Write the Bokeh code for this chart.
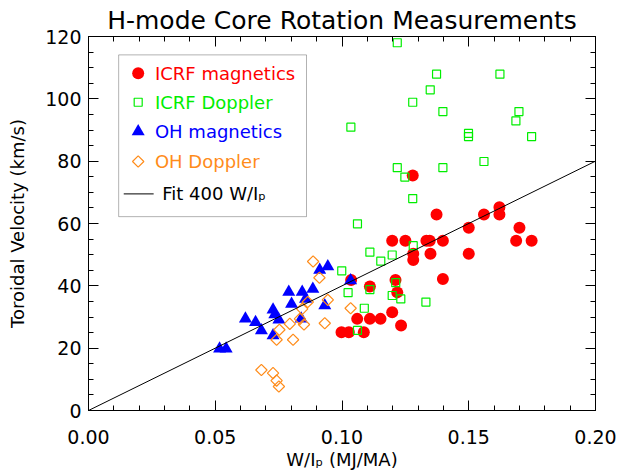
import numpy as np
from bokeh.plotting import figure
from bokeh.models import (SingleIntervalTicker, LinearAxis, PrintfTickFormatter,
                          CustomJSTickFormatter, BoxAnnotation, ColumnDataSource)
from bokeh.core.properties import value
from bokeh.embed import file_html
from bokeh.resources import INLINE

FONT = "DejaVu Sans"

# ---------------- data ----------------
icrf_mag_x = [0.1279, 0.1373, 0.1560, 0.1621, 0.1621, 0.1500, 0.1700, 0.1198, 0.1250,
              0.1333, 0.1346, 0.1398, 0.1687, 0.1748, 0.1281, 0.1281, 0.1349, 0.1500,
              0.1036, 0.1110, 0.1211, 0.1218, 0.1398, 0.1198, 0.1060, 0.1110, 0.1152,
              0.1233, 0.0998, 0.1027, 0.1086]
icrf_mag_y = [75.4, 62.9, 62.9, 65.2, 62.9, 58.6, 58.6, 54.5, 54.5,
              54.5, 54.5, 54.5, 54.5, 54.5, 50.3, 48.3, 50.3, 50.3,
              41.9, 39.8, 41.9, 37.9, 42.2, 31.5, 29.4, 29.4, 29.4,
              27.3, 25.1, 25.1, 25.1]

icrf_dop_x = [0.1218, 0.1373, 0.1623, 0.1348, 0.1279, 0.1398, 0.1698, 0.1686, 0.1035,
              0.1499, 0.1499, 0.1748, 0.1560, 0.1218, 0.1398, 0.1248, 0.1279, 0.1061,
              0.1110, 0.1153, 0.1198, 0.1281, 0.0999, 0.1024, 0.1110, 0.1212, 0.1198,
              0.1232, 0.1331, 0.1088, 0.1061]
icrf_dop_y = [118.0, 107.9, 107.9, 102.9, 98.9, 95.9, 95.9, 92.9, 90.9,
              88.9, 87.9, 87.9, 79.9, 77.9, 77.9, 74.9, 68.0, 59.9,
              50.8, 47.9, 49.9, 52.9, 44.8, 37.8, 38.8, 41.0, 36.9,
              35.8, 34.8, 32.8, 25.7]

oh_mag_x = [0.0517, 0.0543, 0.0619, 0.0659, 0.0682, 0.0728, 0.0735, 0.0751, 0.0728,
            0.0790, 0.0801, 0.0843, 0.0856, 0.0885, 0.0912, 0.0944, 0.0932, 0.0839,
            0.1034]
oh_mag_y = [19.8, 19.8, 29.4, 28.3, 25.7, 32.3, 30.8, 29.1, 24.1,
            38.0, 34.2, 38.0, 35.8, 39.0, 45.1, 46.2, 33.7, 29.4,
            41.7]

oh_dop_x = [0.0886, 0.0911, 0.0944, 0.0865, 0.0843, 0.0834, 0.0850, 0.0794, 0.0753,
            0.0742, 0.0807, 0.0932, 0.1034, 0.0682, 0.0728, 0.0742, 0.0751]
oh_dop_y = [47.8, 42.6, 35.5, 34.8, 32.6, 29.4, 27.6, 27.8, 25.9,
            22.7, 22.7, 28.0, 32.8, 13.0, 12.0, 9.6, 7.7]

fit_slope = 400.0
fit_x = [0.0, 0.2]

legend_labels = ["ICRF magnetics", "ICRF Doppler", "OH magnetics", "OH Doppler", "Fit 400 W/I\u209a"]

RED = "#FF0000"
GREEN = "#00EE00"
BLUE = "#0000FF"
ORANGE = "#FF8C1A"

# ---------------- figure ----------------
p = figure(width=618, height=474, x_range=(0, 0.2), y_range=(0, 120),
           output_backend="svg", toolbar_location=None,
           min_border_left=88, min_border_right=23, min_border_top=36, min_border_bottom=64)
p.background_fill_color = "white"
p.border_fill_color = "white"
p.xgrid.visible = False
p.ygrid.visible = False
p.outline_line_color = "black"
p.outline_line_width = 1

p.title.text = "H-mode Core Rotation Measurements"
p.title.align = "center"
p.title.text_font = FONT
p.title.text_font_size = "25px"
p.title.text_font_style = "normal"
p.title.text_color = "black"
p.title.standoff = 3


def style_axis(ax, ticker, show_labels):
    ax.ticker = ticker
    ax.axis_line_color = "black"
    ax.major_tick_line_color = "black"
    ax.minor_tick_line_color = "black"
    ax.major_tick_in = 10
    ax.major_tick_out = 0
    ax.minor_tick_in = 5
    ax.minor_tick_out = 0
    if show_labels:
        ax.major_label_text_font = FONT
        ax.major_label_text_font_size = "19px"
        ax.major_label_text_color = "black"
        ax.axis_label_text_font = FONT
        ax.axis_label_text_font_size = "18px"
        ax.axis_label_text_font_style = "normal"
        ax.axis_label_text_color = "black"
    else:
        ax.formatter = CustomJSTickFormatter(code="return '';")
        ax.major_label_standoff = 0


xa = p.xaxis[0]
style_axis(xa, SingleIntervalTicker(interval=0.05, num_minor_ticks=5), True)
xa.formatter = PrintfTickFormatter(format="%.2f")
xa.axis_label = "W/I\u209a (MJ/MA)"
xa.major_label_standoff = 19
xa.axis_label_standoff = 2

ya = p.yaxis[0]
style_axis(ya, SingleIntervalTicker(interval=20, num_minor_ticks=4), True)
ya.axis_label = "Toroidal Velocity (km/s)"
ya.major_label_standoff = 7
ya.axis_label_standoff = 14

top_ax = LinearAxis()
style_axis(top_ax, SingleIntervalTicker(interval=0.05, num_minor_ticks=5), False)
p.add_layout(top_ax, "above")
right_ax = LinearAxis()
style_axis(right_ax, SingleIntervalTicker(interval=20, num_minor_ticks=4), False)
p.add_layout(right_ax, "right")

# ---------------- data marks ----------------
p.scatter(icrf_mag_x, icrf_mag_y, marker="circle", size=12, fill_color=RED, line_color=None)
p.scatter(icrf_dop_x, icrf_dop_y, marker="square", size=8, fill_color=None,
          line_color=GREEN, line_width=1.2)
p.scatter(oh_mag_x, oh_mag_y, marker="triangle", size=13, fill_color=BLUE, line_color=None)
p.scatter(oh_dop_x, oh_dop_y, marker="square", angle=np.pi / 4, size=8, fill_color=None,
          line_color=ORANGE, line_width=1.2)
p.line(fit_x, [fit_slope * v for v in fit_x], line_color="black", line_width=1)

# ---------------- legend (manual, coloured labels) ----------------
leg_rows_y = [108.2, 98.9, 89.5, 79.9, 69.5]
leg_mark_x = 0.0196
leg_text_x = 0.0262
p.add_layout(BoxAnnotation(left=0.0119, right=0.0860, bottom=62.2, top=114.1,
                           fill_alpha=0, line_color="black", line_width=1))
p.scatter([leg_mark_x], [leg_rows_y[0]], marker="circle", size=12, fill_color=RED, line_color=None)
p.scatter([leg_mark_x], [leg_rows_y[1]], marker="square", size=8, fill_color=None,
          line_color=GREEN, line_width=1.2)
p.scatter([leg_mark_x], [leg_rows_y[2]], marker="triangle", size=13, fill_color=BLUE, line_color=None)
p.scatter([leg_mark_x], [leg_rows_y[3]], marker="square", angle=np.pi / 4, size=8, fill_color=None,
          line_color=ORANGE, line_width=1.2)
p.line([0.0139, 0.0257], [leg_rows_y[4], leg_rows_y[4]], line_color="black", line_width=1)

src = ColumnDataSource(dict(
    x=[leg_text_x] * 4 + [0.0291],
    y=leg_rows_y,
    t=legend_labels,
    c=[RED, GREEN, BLUE, ORANGE, "black"],
))
p.text(x="x", y="y", text="t", text_color="c", source=src,
       text_font=value(FONT), text_font_size="18px",
       text_baseline="middle", text_align="left")

open("out.html", "w").write(file_html(p, INLINE))
